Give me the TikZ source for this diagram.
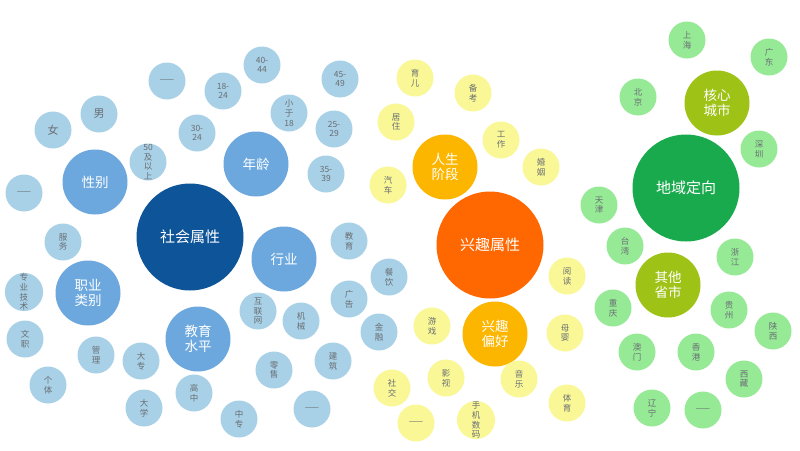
\documentclass[tikz,border=0pt]{standalone}
\usepackage{fontspec}
\setmainfont{Noto Sans CJK SC}
\definecolor{dblue}{RGB}{14,84,152}
\definecolor{mblue}{RGB}{108,168,222}
\definecolor{lblue}{RGB}{168,208,230}
\definecolor{orng}{RGB}{255,104,0}
\definecolor{ambr}{RGB}{253,182,0}
\definecolor{lyel}{RGB}{250,248,150}
\definecolor{dgrn}{RGB}{26,170,78}
\definecolor{ygrn}{RGB}{158,194,22}
\definecolor{lgrn}{RGB}{150,234,150}
\definecolor{txtgray}{RGB}{105,110,115}
\tikzset{
  dot/.style={circle, inner sep=0pt, align=center},
  bigc/.style={dot, minimum size=107pt, text=white, font=\fontsize{15}{17}\selectfont},
  midc/.style={dot, minimum size=65pt, text=white, font=\fontsize{13.5}{15.5}\selectfont},
  smallc/.style={dot, minimum size=37pt, text=txtgray, font=\fontsize{8.5}{9.8}\selectfont},
  sb/.style={smallc, fill=lblue},
  sy/.style={smallc, fill=lyel},
  sg/.style={smallc, fill=lgrn}
}
\begin{document}
\begin{tikzpicture}[x=1pt,y=-1pt]
\useasboundingbox[fill=white] (0,0) rectangle (800,450);
% ---- blue group
\node[bigc, fill=dblue] (shsx) at (190,237) {社会属性};
\node[midc, fill=mblue] (xb) at (95,182) {性别};
\node[midc, fill=mblue] (nl) at (256,164) {年龄};
\node[midc, fill=mblue] (hy) at (284,259) {行业};
\node[midc, fill=mblue] (jy) at (198,339) {教育\\水平};
\node[midc, fill=mblue] (zy) at (88,293) {职业\\类别};
\node[sb] (nv) at (53,130) {\fontsize{11}{12}\selectfont 女};
\node[sb] (nan) at (99,114) {\fontsize{11}{12}\selectfont 男};
\node[sb] (bd1) at (167,81) {——};
\node[sb] (a50) at (148,162) {50\\及\\以\\上};
\node[sb] (bd2) at (24,193) {——};
\node[sb] (a30) at (197,133) {30-\\24};
\node[sb] (a18) at (223,91) {18-\\24};
\node[sb] (a40) at (262,65) {40-\\44};
\node[sb] (a45) at (340,79) {45-\\49};
\node[sb] (axy) at (289,113) {小\\于\\18};
\node[sb] (a25) at (334,129) {25-\\29};
\node[sb] (a35) at (326,174) {35-\\39};
\node[sb] (fw) at (63,242) {服\\务};
\node[sb] (zyjs) at (24,292) {专\\业\\技\\术};
\node[sb] (wz) at (25,339) {文\\职};
\node[sb] (gl) at (96,355) {管\\理};
\node[sb] (dz) at (141,361) {大\\专};
\node[sb] (gt) at (48,385) {个\\体};
\node[sb] (dx) at (144,408) {大\\学};
\node[sb] (gz) at (194,393) {高\\中};
\node[sb] (zz) at (239,419) {中\\专};
\node[sb] (ls) at (274,370) {零\\售};
\node[sb] (bd3) at (312,409) {——};
\node[sb] (jz) at (333,361) {建\\筑};
\node[sb] (hlw) at (258,311) {互\\联\\网};
\node[sb] (jx) at (301,321) {机\\械};
\node[sb] (gg) at (349,299) {广\\告};
\node[sb] (jyu) at (349,241) {教\\育};
\node[sb] (cy) at (389,277) {餐\\饮};
\node[sb] (jr) at (379,332) {金\\融};
% ---- orange group
\node[bigc, fill=orng] (xqsx) at (490,245) {兴趣属性};
\node[midc, fill=ambr] (rsjd) at (445,167) {人生\\阶段};
\node[midc, fill=ambr] (xqph) at (495,334) {兴趣\\偏好};
\node[sy] (ye) at (415,78) {育\\儿};
\node[sy] (bk) at (473,93) {备\\考};
\node[sy] (jzh) at (396,122) {居\\住};
\node[sy] (gzu) at (501,140) {工\\作};
\node[sy] (hy2) at (541,167) {婚\\姻};
\node[sy] (qc) at (388,185) {汽\\车};
\node[sy] (yd) at (567,276) {阅\\读};
\node[sy] (yx) at (432,326) {游\\戏};
\node[sy] (my) at (565,333) {母\\婴};
\node[sy] (sj) at (392,388) {社\\交};
\node[sy] (ys) at (446,378) {影\\视};
\node[sy] (yy) at (519,379) {音\\乐};
\node[sy] (ty) at (567,403) {体\\育};
\node[sy] (bd4) at (416,423) {——};
\node[sy] (sjsm) at (476,420) {手\\机\\数\\码};
% ---- green group
\node[bigc, fill=dgrn] (dydx) at (686,188) {地域定向};
\node[midc, fill=ygrn] (hxcs) at (717,103) {核心\\城市};
\node[midc, fill=ygrn] (qtss) at (668,285) {其他\\省市};
\node[sg] (sh) at (687,40) {上\\海};
\node[sg] (gd) at (769,57) {广\\东};
\node[sg] (bj) at (638,97) {北\\京};
\node[sg] (sz) at (759,149) {深\\圳};
\node[sg] (tj) at (599,205) {天\\津};
\node[sg] (tw) at (625,246) {台\\湾};
\node[sg] (zj) at (735,257) {浙\\江};
\node[sg] (cq) at (613,308) {重\\庆};
\node[sg] (gzh) at (729,310) {贵\\州};
\node[sg] (sx) at (773,331) {陕\\西};
\node[sg] (am) at (637,352) {澳\\门};
\node[sg] (xg) at (696,352) {香\\港};
\node[sg] (xz) at (744,379) {西\\藏};
\node[sg] (ln) at (652,408) {辽\\宁};
\node[sg] (bd5) at (703,410) {——};
\end{tikzpicture}
\end{document}
